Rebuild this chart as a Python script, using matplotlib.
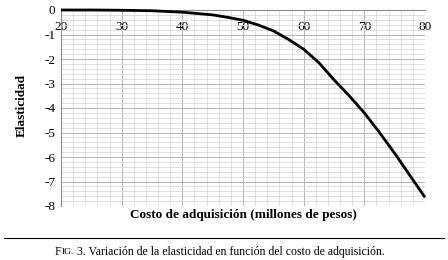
import matplotlib
matplotlib.use("Agg")
import matplotlib.pyplot as plt
from matplotlib.ticker import MultipleLocator
from matplotlib.lines import Line2D

# costo de adquisicion (millones de pesos) vs elasticidad
costo = [20, 25, 30, 35, 40, 45, 47.5, 50, 52.5, 55, 57.5, 60, 62.5, 65, 67.5, 70, 72.5, 75, 77.5, 80]
elasticidad = [0.0, 0.0, -0.01, -0.03, -0.09, -0.2, -0.3, -0.42, -0.61, -0.85, -1.2, -1.6, -2.15, -2.85,
               -3.5, -4.2, -5.0, -5.85, -6.75, -7.65]

x_ticks = [20, 30, 40, 50, 60, 70, 80]
y_ticks = [0, -1, -2, -3, -4, -5, -6, -7, -8]

plt.rcParams['font.family'] = ['Liberation Serif', 'DejaVu Serif']

fig = plt.figure(figsize=(4.48, 2.6), dpi=100)
ax = fig.add_axes([61/448, 1-206/260, (425-61)/448, (206-10)/260])

ax.set_xlim(20, 80)
ax.set_ylim(-8, 0)
ax.xaxis.set_major_locator(MultipleLocator(10))
ax.xaxis.set_minor_locator(MultipleLocator(2))
ax.yaxis.set_major_locator(MultipleLocator(1))
ax.yaxis.set_minor_locator(MultipleLocator(0.2))
ax.grid(which='major', color='#b4b4b4', lw=0.7)
ax.grid(which='minor', color='#d8d8d8', lw=0.6)
ax.set_axisbelow(True)

for s in ['top', 'right']:
    ax.spines[s].set_visible(False)
ax.spines['bottom'].set_position(('data', 0))
ax.spines['bottom'].set_color('#8c8c8c')
ax.spines['left'].set_color('#8c8c8c')

ax.set_xticks(x_ticks)
ax.set_yticks(y_ticks)
ax.set_yticklabels([str(v) for v in y_ticks])
ax.tick_params(which='both', length=0)
ax.tick_params(axis='x', labelsize=9.5, pad=8)
ax.tick_params(axis='y', labelsize=9.5, pad=4)

ax.plot(costo, elasticidad, color='black', lw=2.0, solid_capstyle='butt', zorder=5, clip_on=False)

fig.text(22/448, 1-105/260, 'Elasticidad', rotation=90, ha='center', va='center',
         fontsize=9.5, fontweight='bold')
fig.text(243/448, 1-215/260, 'Costo de adquisición (millones de pesos)', ha='center', va='center',
         fontsize=9.5, fontweight='bold')

fig.add_artist(Line2D([4/448, 444/448], [1-238/260, 1-238/260], color='black', lw=0.8))

# caption with small caps "FIG."
r = fig.canvas.get_renderer()
x0 = 55/448
yc = 1-252/260
t1 = fig.text(x0, yc, 'F', fontsize=8.5, va='center')
w1 = t1.get_window_extent(r).width / 448
t2 = fig.text(x0 + w1, yc, 'IG.', fontsize=6.8, va='center')
w2 = t2.get_window_extent(r).width / 448
fig.text(x0 + w1 + w2, yc, ' 3. Variación de la elasticidad en función del costo de adquisición.',
         fontsize=8.5, va='center')

fig.savefig('out.png', dpi=100)
